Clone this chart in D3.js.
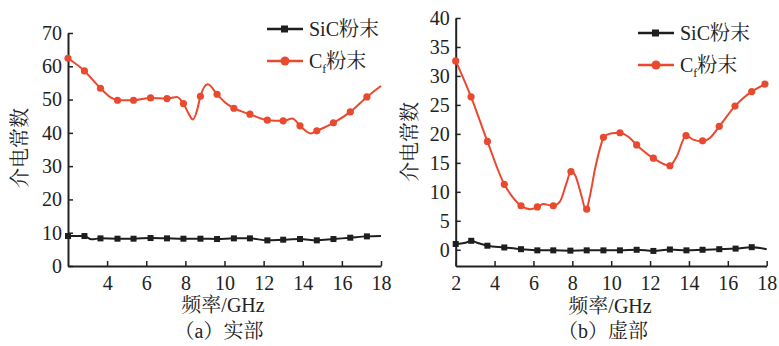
<!DOCTYPE html>
<html lang="zh">
<head>
<meta charset="UTF-8">
<title>介电常数</title>
<script src="https://d3js.org/d3.v7.min.js"></script>
<style>
  body { margin: 0; background: #fff; }
  svg { display: block; }
</style>
</head>
<body>
<svg width="779" height="346"></svg>
<script>
// ---- data (frequency in GHz, value) ----
// (a) real part
const sicRealLine = [[2,9.0],[2.84,9.0],[3.2,8.0],[3.66,8.3],[4.53,8.2],[5.35,8.2],[6.22,8.4],[7.06,8.3],[7.9,8.2],[8.77,8.2],[9.62,8.1],[10.48,8.3],[11.3,8.3],[12.19,7.7],[13.0,7.9],[13.86,8.1],[14.72,7.7],[15.57,8.1],[16.43,8.5],[17.28,8.9],[18,9.0]];
const sicRealMarks = [[2,9.0],[2.84,9.0],[3.66,8.3],[4.53,8.2],[5.35,8.2],[6.22,8.4],[7.06,8.3],[7.9,8.2],[8.77,8.2],[9.62,8.1],[10.48,8.3],[11.3,8.3],[12.19,7.7],[13.0,7.9],[13.86,8.1],[14.72,7.7],[15.57,8.1],[16.43,8.5],[17.28,8.9]];
const cfRealLine = [[2,62.4],[2.84,58.6],[3.66,53.4],[4.2,50.6],[4.53,49.8],[5.35,49.8],[6.22,50.5],[7.06,50.3],[7.57,50.8],[7.9,48.8],[8.15,46.0],[8.38,44.0],[8.6,46.8],[8.77,51.0],[9.14,54.6],[9.62,51.6],[10.0,49.3],[10.48,47.4],[11.3,45.6],[12.19,43.8],[13.0,43.6],[13.47,44.3],[13.86,42.1],[14.41,39.8],[14.72,40.6],[15.57,43.0],[16.43,46.3],[17.28,50.8],[18,54.1]];
const cfRealMarks = [[2,62.4],[2.84,58.6],[3.66,53.4],[4.53,49.8],[5.35,49.8],[6.22,50.5],[7.06,50.3],[7.9,48.8],[8.77,51.0],[9.62,51.6],[10.48,47.4],[11.3,45.6],[12.19,43.8],[13.0,43.6],[13.86,42.1],[14.72,40.6],[15.57,43.0],[16.43,46.3],[17.28,50.8]];

// (b) imaginary part
const sicImagLine = [[2,1.0],[2.5,1.2],[2.8,1.55],[3.1,1.2],[3.63,0.7],[4.5,0.4],[5.36,0.1],[6.2,-0.1],[7.02,-0.1],[7.9,-0.15],[8.74,-0.1],[9.6,-0.1],[10.45,-0.1],[11.31,0],[12.17,-0.2],[13.02,0.05],[13.87,-0.1],[14.7,0],[15.56,0.1],[16.4,0.2],[17.23,0.45],[18,0.1]];
const sicImagMarks = [[2,1.0],[2.8,1.55],[3.63,0.7],[4.5,0.4],[5.36,0.1],[6.2,-0.1],[7.02,-0.1],[7.9,-0.15],[8.74,-0.1],[9.6,-0.1],[10.45,-0.1],[11.31,0],[12.17,-0.2],[13.02,0.05],[13.87,-0.1],[14.7,0],[15.56,0.1],[16.4,0.2],[17.23,0.45]];
const cfImagLine = [[2,32.6],[2.79,26.4],[3.63,18.7],[4.5,11.3],[5.0,8.8],[5.36,7.6],[5.84,7.0],[6.17,7.3],[6.5,7.9],[7.02,7.6],[7.36,8.3],[7.7,11.5],[7.93,13.5],[8.14,12.9],[8.48,9.2],[8.7,6.8],[8.9,9.2],[9.16,13.8],[9.5,18.4],[9.6,19.4],[10.02,20.1],[10.45,20.2],[10.88,19.5],[11.31,18.1],[12.17,15.8],[13.02,14.5],[13.37,16.1],[13.85,19.7],[14.22,19.0],[14.65,18.7],[15.08,19.3],[15.56,21.3],[16.37,24.8],[16.8,26.2],[17.23,27.3],[17.91,28.6]];
const cfImagMarks = [[2,32.6],[2.79,26.4],[3.63,18.7],[4.5,11.3],[5.36,7.6],[6.2,7.4],[7.02,7.6],[7.93,13.5],[8.74,7.0],[9.6,19.4],[10.45,20.2],[11.31,18.1],[12.17,15.8],[13.02,14.5],[13.85,19.7],[14.7,18.8],[15.56,21.3],[16.37,24.8],[17.23,27.3],[17.91,28.6]];

const realTicksY = [0, 10, 20, 30, 40, 50, 60, 70];
const imagTicksY = [0, 5, 10, 15, 20, 25, 30, 35, 40];
const realTicksX = [4, 6, 8, 10, 12, 14, 16, 18];
const imagTicksX = [2, 4, 6, 8, 10, 12, 14, 16, 18];

const RED = "#e8492f";
const BLACK = "#1e1e1e";
const SERIF = "'Liberation Serif', 'Noto Serif CJK SC', serif";

const svg = d3.select("svg");

function drawPanel(p) {
  const x = d3.scaleLinear().domain([2, 18]).range(p.xRange);
  const y = d3.scaleLinear().domain(p.yDomain).range(p.yRange);
  const g = svg.append("g");

  // axes, ticks inward
  const xAxis = g.append("g")
    .attr("transform", `translate(0,${p.yRange[0]})`)
    .call(d3.axisBottom(x).tickValues(p.xTicks).tickSizeInner(-5).tickSizeOuter(0).tickPadding(10));
  const yAxis = g.append("g")
    .attr("transform", `translate(${p.xRange[0]},0)`)
    .call(d3.axisLeft(y).tickValues(p.yTicks).tickSizeInner(-5).tickSizeOuter(0).tickPadding(6));
  [xAxis, yAxis].forEach(a => {
    a.select(".domain").attr("stroke", "#222").attr("stroke-width", 2);
    a.selectAll(".tick line").attr("stroke", "#222").attr("stroke-width", 1.5);
    a.selectAll("text").style("font-family", SERIF).style("font-size", "20px").attr("fill", "#222");
  });
  xAxis.selectAll("text").attr("dy", "0.71em");

  const line = d3.line().x(d => x(d[0])).y(d => y(d[1])).curve(d3.curveMonotoneX);

  // SiC series
  g.append("path").datum(p.sicLine).attr("fill", "none").attr("stroke", BLACK)
    .attr("stroke-width", 2).attr("d", line);
  g.selectAll(".sq").data(p.sicMarks).join("rect")
    .attr("x", d => x(d[0]) - 3).attr("y", d => y(d[1]) - 3)
    .attr("width", 6).attr("height", 6).attr("fill", BLACK);

  // Cf series
  g.append("path").datum(p.cfLine).attr("fill", "none").attr("stroke", RED)
    .attr("stroke-width", 2).attr("d", line);
  g.selectAll(".ci").data(p.cfMarks).join("circle")
    .attr("cx", d => x(d[0])).attr("cy", d => y(d[1])).attr("r", 3.6).attr("fill", RED);

  // legend
  const lg = g.append("g").attr("transform", `translate(${p.legend[0]},${p.legend[1]})`)
    .style("font-family", SERIF).style("font-size", "20px");
  lg.append("line").attr("x1", 0).attr("x2", 36).attr("y1", 0).attr("y2", 0)
    .attr("stroke", BLACK).attr("stroke-width", 2.5);
  lg.append("rect").attr("x", 14).attr("y", -3.5).attr("width", 7).attr("height", 7).attr("fill", BLACK);
  lg.append("text").attr("x", 42).attr("y", 7).attr("fill", "#222").text("SiC粉末");
  lg.append("line").attr("x1", 0).attr("x2", 36).attr("y1", 32).attr("y2", 32)
    .attr("stroke", RED).attr("stroke-width", 2.5);
  lg.append("circle").attr("cx", 18).attr("cy", 32).attr("r", 4.5).attr("fill", RED);
  const t2 = lg.append("text").attr("x", 42).attr("y", 39).attr("fill", "#222");
  t2.append("tspan").text("C");
  t2.append("tspan").style("font-size", "12px").attr("dy", 5).text("f");
  t2.append("tspan").attr("dy", -5).text("粉末");

  // axis titles
  const titles = g.append("g").style("font-family", SERIF).style("font-size", "20px")
    .attr("fill", "#222").attr("text-anchor", "middle");
  titles.append("text")
    .attr("transform", `translate(${p.yTitle[0]},${p.yTitle[1]}) rotate(-90)`)
    .attr("dy", "0.35em").text("介电常数");
  titles.append("text").attr("x", p.xTitle[0]).attr("y", p.xTitle[1]).text("频率/GHz");
  titles.append("text").attr("x", p.caption[0]).attr("y", p.caption[1]).text(p.captionText);
}

drawPanel({
  xRange: [68, 381], yDomain: [0, 70], yRange: [266, 33],
  xTicks: realTicksX, yTicks: realTicksY,
  sicLine: sicRealLine, sicMarks: sicRealMarks, cfLine: cfRealLine, cfMarks: cfRealMarks,
  legend: [267, 29], yTitle: [20, 148], xTitle: [223, 312], caption: [219, 338],
  captionText: "（a）实部"
});

drawPanel({
  xRange: [455.7, 766.7], yDomain: [-2.8, 40], yRange: [266, 18],
  xTicks: imagTicksX, yTicks: imagTicksY,
  sicLine: sicImagLine, sicMarks: sicImagMarks, cfLine: cfImagLine, cfMarks: cfImagMarks,
  legend: [638, 33], yTitle: [410, 142], xTitle: [610, 313], caption: [603, 338],
  captionText: "（b）虚部"
});
</script>
</body>
</html>
